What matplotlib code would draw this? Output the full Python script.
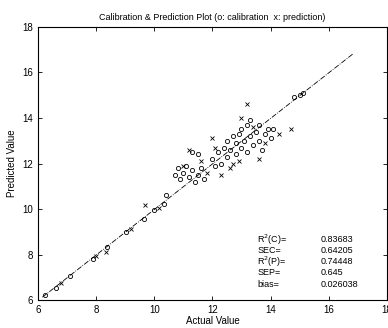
import numpy as np
import matplotlib.pyplot as plt

plt.rcParams['font.family'] = ['Liberation Sans', 'DejaVu Sans']

# calibration set (o)
cal_actual = [6.23, 6.63, 7.11, 7.9, 8.36, 9.03, 9.66, 10.0, 10.34, 10.4,
              10.7, 10.8, 10.9, 11.0, 11.1, 11.2, 11.3, 11.4, 11.5, 11.6, 11.7, 11.3, 11.5,
              12.0, 12.1, 12.2, 12.3, 12.4, 12.5, 12.5, 12.6, 12.7, 12.8, 12.8, 12.9,
              13.0, 13.0, 13.1, 13.2, 13.2, 13.3, 13.3, 13.4, 13.5, 13.6, 13.6, 13.7,
              13.8, 13.9, 14.0, 14.1, 14.8, 15.0, 15.1]
cal_pred = [6.22, 6.53, 7.05, 7.8, 8.33, 9.0, 9.57, 9.95, 10.23, 10.6,
            11.5, 11.8, 11.3, 11.6, 11.9, 11.4, 11.7, 11.2, 11.5, 11.8, 11.3, 12.5, 12.4,
            12.2, 11.9, 12.5, 12.0, 12.7, 12.3, 13.0, 12.6, 13.2, 12.4, 12.9, 13.3,
            12.7, 13.5, 13.0, 13.7, 12.5, 13.2, 13.9, 12.8, 13.4, 13.0, 13.7, 12.6,
            13.3, 13.5, 13.1, 13.5, 14.9, 15.0, 15.1]

# prediction set (x)
pred_actual = [6.8, 8.0, 8.35, 9.2, 9.68, 10.16, 11.0, 11.2, 11.8, 12.1, 12.3,
               12.6, 12.9, 13.0, 13.2, 13.4, 13.6, 13.8, 14.3, 14.7, 12.0, 11.6, 12.7]
pred_pred = [6.75, 7.93, 8.1, 9.13, 10.17, 10.04, 11.9, 12.6, 11.6, 12.7, 11.5,
             11.8, 12.1, 14.0, 14.6, 13.6, 12.2, 12.9, 13.3, 13.5, 13.1, 12.1, 12.0]

# fitted line
fit_x = [6.15, 16.85]
fit_slope = 1.0
fit_intercept = -0.02

stat_names = ['R$^2$(C)=', 'SEC=', 'R$^2$(P)=', 'SEP=', 'bias=']
stat_values = ['0.83683', '0.64205', '0.74448', '0.645', '0.026038']

fig = plt.figure(figsize=(3.88, 3.28), dpi=100)
ax = fig.add_axes([0.098, 0.085, 0.899, 0.833])

ax.plot(cal_actual, cal_pred, 'o', ms=3, mfc='none', mec='black', mew=0.6)
ax.plot(pred_actual, pred_pred, 'x', ms=3, color='black', mew=0.6)
fx = np.array(fit_x)
ax.plot(fx, fit_slope * fx + fit_intercept, '-.', color='black', lw=0.6)

ax.set_xlim(6, 18)
ax.set_ylim(6, 18)
ax.set_xticks([6, 8, 10, 12, 14, 16, 18])
ax.set_yticks([6, 8, 10, 12, 14, 16, 18])
ax.tick_params(direction='in', top=True, right=True, labelsize=7, length=3, width=0.6)
for s in ax.spines.values():
    s.set_linewidth(0.8)

ax.set_title('Calibration & Prediction Plot (o: calibration  x: prediction)', fontsize=6.5, pad=5)
ax.set_xlabel('Actual Value', fontsize=7, labelpad=1)
ax.set_ylabel('Predicted Value', fontsize=7, labelpad=4)

ys = [8.65, 8.17, 7.7, 7.21, 6.69]
for name, val, y in zip(stat_names, stat_values, ys):
    ax.text(13.55, y, name, fontsize=6.5, va='center')
    ax.text(15.72, y, val, fontsize=6.5, va='center')

fig.savefig('out.png', dpi=100)
